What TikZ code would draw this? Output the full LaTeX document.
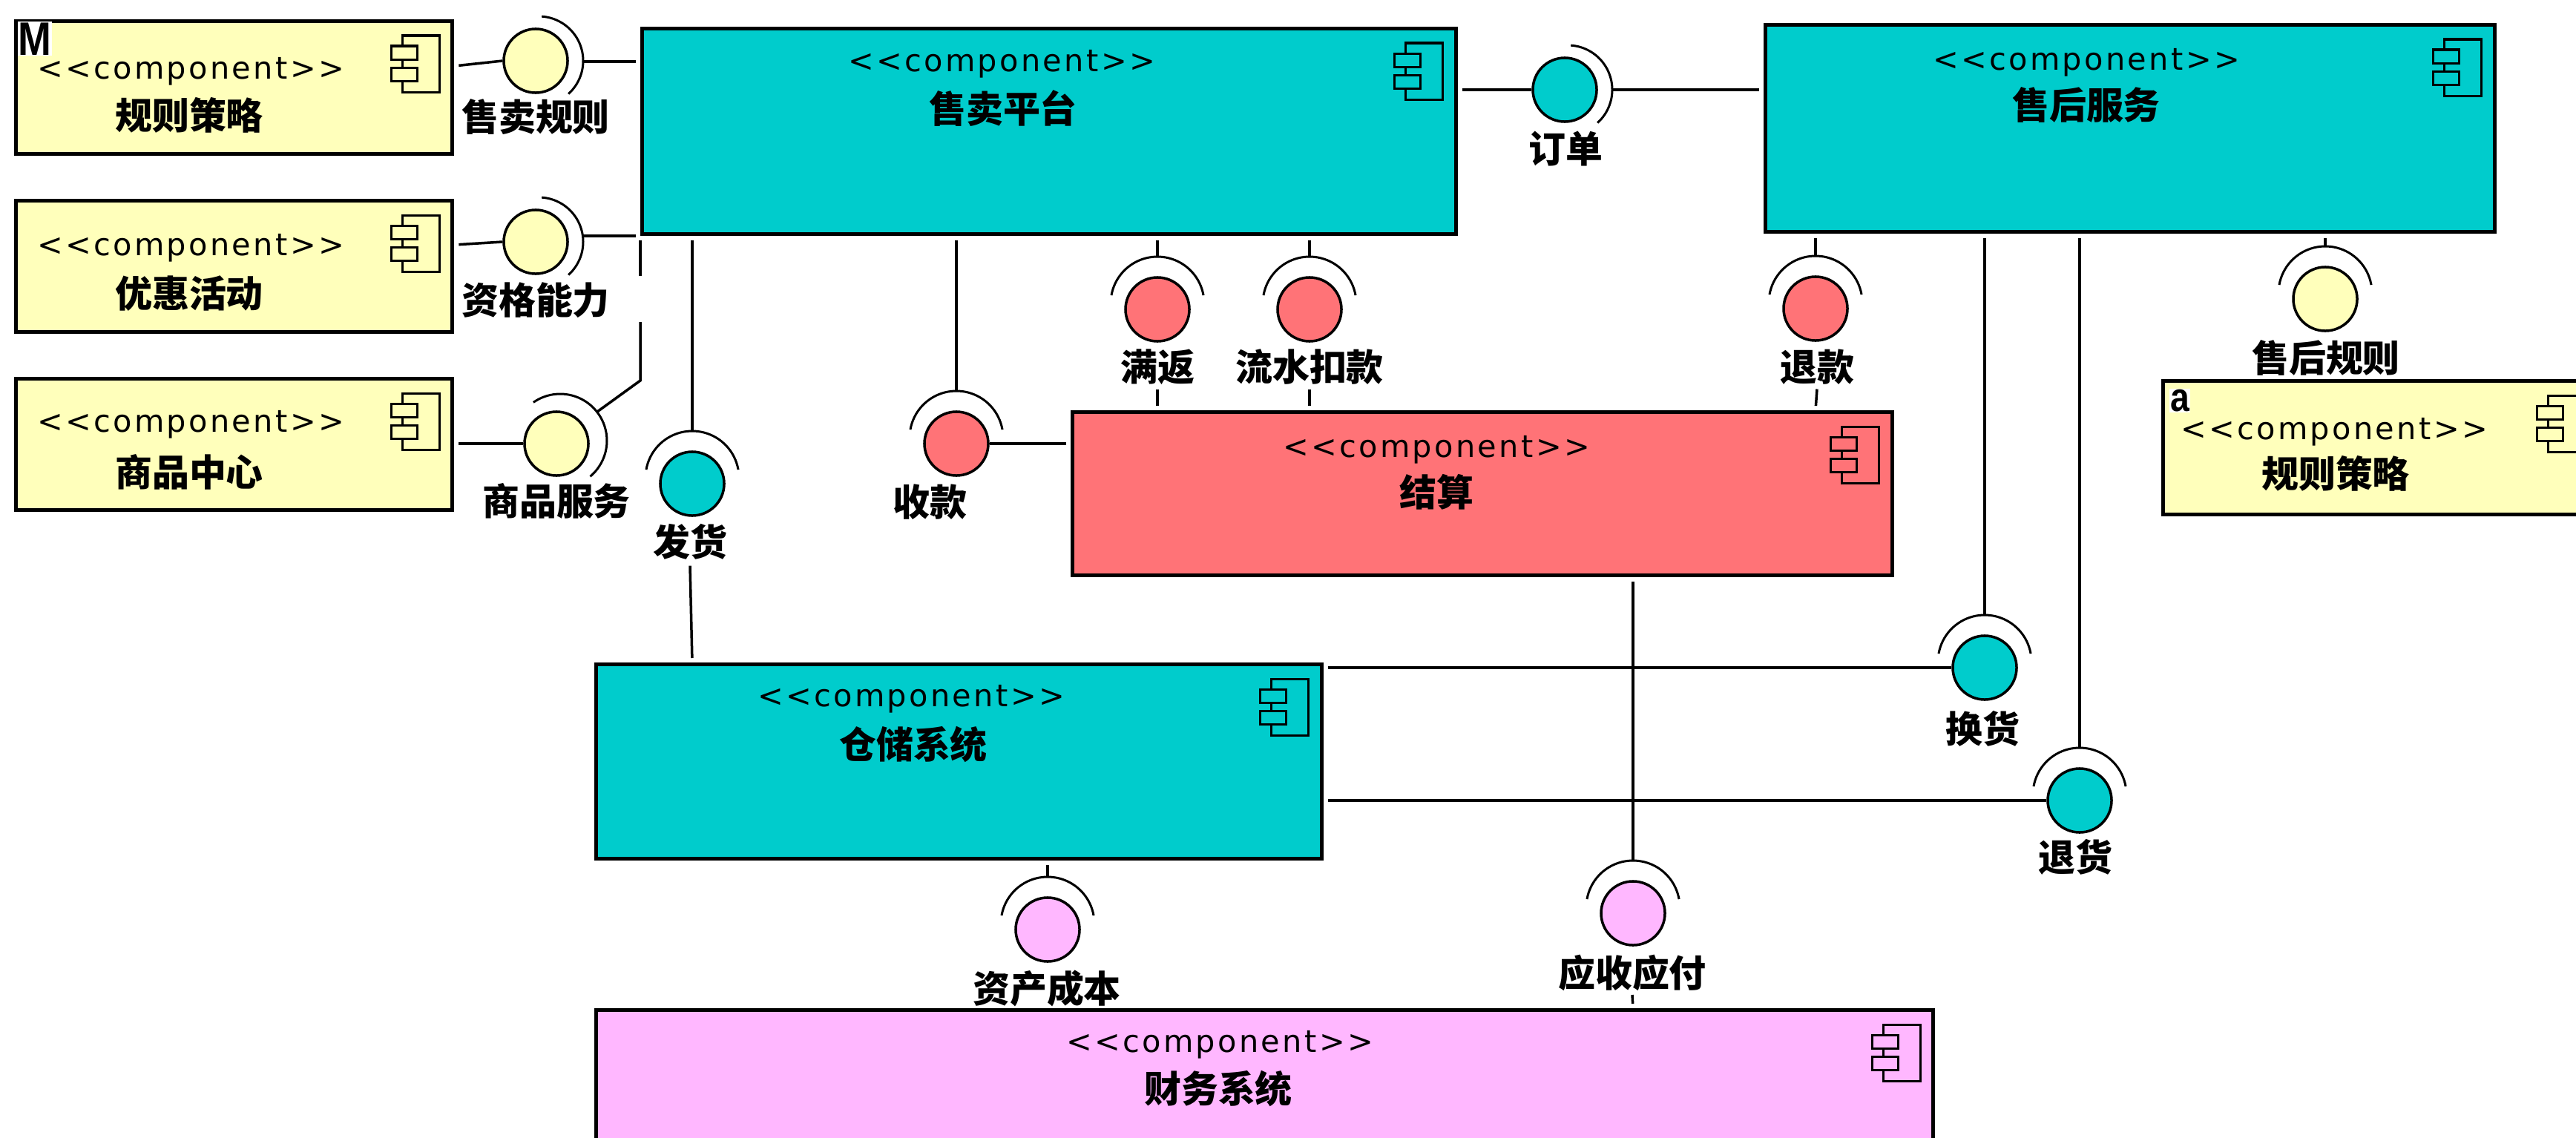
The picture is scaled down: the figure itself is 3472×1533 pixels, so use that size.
\documentclass[tikz,border=0pt]{standalone}
\usepackage{fontspec}
\setmainfont{DejaVu Sans}
\newfontfamily\cjk{Noto Sans CJK SC}
\newfontfamily\stfont[LetterSpace=8]{DejaVu Sans}
\newfontfamily\tagfnt[FakeStretch=0.85]{Liberation Sans}
\usetikzlibrary{calc}
\definecolor{cteal}{HTML}{00CCCC}
\definecolor{cyel}{HTML}{FFFFBB}
\definecolor{cred}{HTML}{FF7377}
\definecolor{cpink}{HTML}{FFB7FF}
\tikzset{
  comp/.style={draw=black, line width=0.05cm, rectangle, anchor=north west, inner sep=0pt},
  st/.style={font=\stfont\fontsize{11.8}{13}\selectfont, inner sep=0pt},
  nm/.style={font=\cjk\bfseries\fontsize{14.2}{16}\selectfont, inner sep=0pt},
  ball/.style={circle, draw=black, line width=0.035cm, minimum size=0.86cm, inner sep=0pt},
  conn/.style={line width=0.035cm, shorten <=0.06cm},
  sock/.style={line width=0.03cm},
  iconl/.style={line width=0.03cm},
  tagbox/.style={fill=white, inner sep=0.01cm, anchor=base}
}
\newcommand\cicon[2]{%
  \draw[iconl, fill=#2] ($(#1.north east)+(-70,22)$) rectangle ($(#1.north east)+(-20,98)$);
  \draw[iconl, fill=#2] ($(#1.north east)+(-85,36)$) rectangle ($(#1.north east)+(-50,54)$);
  \draw[iconl, fill=#2] ($(#1.north east)+(-85,65)$) rectangle ($(#1.north east)+(-50,83)$);
}
\newcommand\sockR[2]{\draw[sock] plot[domain=-48:86, samples=40] ({#1+4+60*cos(\x)}, {#2-60*sin(\x)});}
\newcommand\sockT[2]{\draw[sock] plot[domain=10:170, samples=40] ({#1+63*cos(\x)}, {#2-8-63*sin(\x)});}
\begin{document}
\begin{tikzpicture}[x=0.01cm, y=-0.01cm]
\useasboundingbox (0,0) rectangle (3472,1533);
\clip (0,0) rectangle (3472,1533);
\fill[white] (0,0) rectangle (3472,1533);

% ---------------- components
\node[comp, fill=cyel, minimum width=5.88cm, minimum height=1.79cm] (rules1) at (19,26) {};
\node[comp, fill=cyel, minimum width=5.88cm, minimum height=1.77cm] (promo) at (19,268) {};
\node[comp, fill=cyel, minimum width=5.88cm, minimum height=1.77cm] (goods) at (19,508) {};
\node[comp, fill=cteal, minimum width=10.96cm, minimum height=2.77cm] (sale) at (863,36) {};
\node[comp, fill=cteal, minimum width=9.82cm, minimum height=2.79cm] (after) at (2377,31) {};
\node[comp, fill=cred, minimum width=11.04cm, minimum height=2.20cm] (settle) at (1443,553) {};
\node[comp, fill=cteal, minimum width=9.77cm, minimum height=2.62cm] (store) at (801,893) {};
\node[comp, fill=cpink, minimum width=18.01cm, minimum height=2.20cm] (fin) at (801,1359) {};
\node[comp, fill=cyel, minimum width=5.86cm, minimum height=1.80cm] (rules2) at (2913,511) {};

\cicon{rules1}{cyel}
\cicon{promo}{cyel}
\cicon{goods}{cyel}
\cicon{sale}{cteal}
\cicon{after}{cteal}
\cicon{settle}{cred}
\cicon{store}{cteal}
\cicon{fin}{cpink}
\cicon{rules2}{cyel}

\node[st] (rules1st) at (257,96) {<<component>>};
\node[nm] (rules1nm) at (255,155) {规则策略};
\node[st] (promost) at (257,334) {<<component>>};
\node[nm] (promonm) at (255,396) {优惠活动};
\node[st] (goodsst) at (257,572) {<<component>>};
\node[nm] (goodsnm) at (255,636) {商品中心};
\node[st] (salest) at (1350,86) {<<component>>};
\node[nm] (salenm) at (1352,146) {售卖平台};
\node[st] (afterst) at (2812,84) {<<component>>};
\node[nm] (afternm) at (2812,141) {售后服务};
\node[st] (settlest) at (1936,606) {<<component>>};
\node[nm] (settlenm) at (1936,663) {结算};
\node[st] (storest) at (1228,942) {<<component>>};
\node[nm] (storenm) at (1231,1003) {仓储系统};
\node[st] (finst) at (1644,1408) {<<component>>};
\node[nm] (finnm) at (1642,1467) {财务系统};
\node[st] (rules2st) at (3146,582) {<<component>>};
\node[nm] (rules2nm) at (3148,638) {规则策略};

\node[tagbox, font=\tagfnt\bfseries\fontsize{18}{20}\selectfont] (tagM) at (47,74) {M};
\node[tagbox, font=\tagfnt\bfseries\fontsize{15.5}{18}\selectfont] (taga) at (2938,554) {a};

% ---------------- interface labels
\node[nm] (l1) at (722,158) {售卖规则};
\node[nm] (l2) at (722,405) {资格能力};
\node[nm] (l3) at (750,675) {商品服务};
\node[nm] (l4) at (2110,200) {订单};
\node[nm] (l5) at (930,730) {发货};
\node[nm] (l6) at (1253,677) {收款};
\node[nm] (l7) at (1560,495) {满返};
\node[nm] (l8) at (1765,495) {流水扣款};
\node[nm] (l9) at (2449,495) {退款};
\node[nm] (l10) at (3135,482) {售后规则};
\node[nm] (l11) at (2672,982) {换货};
\node[nm] (l12) at (2797,1155) {退货};
\node[nm] (l13) at (1411,1332) {资产成本};
\node[nm] (l14) at (2200,1311) {应收应付};

% ---------------- socket end points
\coordinate (s1) at (786,83);
\coordinate (s2) at (785,318);
\coordinate (s3) at (805,555);
\coordinate (s4) at (2173,121);
\coordinate (s5) at (933,581);
\coordinate (s6) at (1289,527);
\coordinate (s7) at (1560,346);
\coordinate (s8) at (1765,346);
\coordinate (s9) at (2447,345);
\coordinate (s10) at (3134,332);
\coordinate (s11) at (2675,829);
\coordinate (s12) at (2803,1008);
\coordinate (s13) at (1412,1182);
\coordinate (s14) at (2201,1160);

% ---------------- balls (provided interfaces)
\node[ball, fill=cyel] (i1) at (722,82) {};
\node[ball, fill=cyel] (i2) at (722,326) {};
\node[ball, fill=cyel] (i3) at (750,598) {};
\node[ball, fill=cteal] (i4) at (2109,121) {};
\node[ball, fill=cteal] (i5) at (933,652) {};
\node[ball, fill=cred] (i6) at (1289,598) {};
\node[ball, fill=cred] (i7) at (1560,417) {};
\node[ball, fill=cred] (i8) at (1765,417) {};
\node[ball, fill=cred] (i9) at (2447,416) {};
\node[ball, fill=cyel] (i10) at (3134,403) {};
\node[ball, fill=cteal] (i11) at (2675,900) {};
\node[ball, fill=cteal] (i12) at (2803,1079) {};
\node[ball, fill=cpink] (i13) at (1412,1253) {};
\node[ball, fill=cpink] (i14) at (2201,1231) {};

% ---------------- sockets (required interfaces)
\sockR{722}{82}
\sockR{722}{326}
\draw[sock] plot[domain=-50:125, samples=40] ({755+63*cos(\x)}, {594-63*sin(\x)});
\sockR{2109}{121}
\sockT{933}{652}
\sockT{1289}{598}
\sockT{1560}{417}
\sockT{1765}{417}
\sockT{2447}{416}
\sockT{3134}{403}
\sockT{2675}{900}
\sockT{2803}{1079}
\sockT{1412}{1253}
\sockT{2201}{1231}

% ---------------- connectors
% 售卖规则
\draw[conn] (rules1.east |- 0,89) -- (i1.west);
\draw[conn] (sale.west |- s1) -- (s1);
% 资格能力
\draw[conn] (promo.east |- 0,330) -- (i2.west);
\draw[conn] (sale.west |- s2) -- (s2);
% 商品服务
\draw[conn] (goods.east |- i3) -- (i3.west);
\draw[conn] (sale.south west) -- (sale.south west |- 0,372);
\draw[conn, shorten <=0pt] (sale.south west |- 0,434) -- (sale.south west |- 0,513) -- (s3);
% 订单
\draw[conn] (sale.east |- i4) -- (i4.west);
\draw[conn] (after.west |- s4) -- (s4);
% 发货
\draw[conn] (sale.south -| s5) -- (s5);
\draw[conn] (store.north -| i5) -- ($(l5.south)+(0,8)$);
% 收款
\draw[conn] (sale.south -| s6) -- (s6);
\draw[conn] (settle.west |- i6) -- (i6.east);
% 满返
\draw[conn] (sale.south -| s7) -- (s7);
\draw[conn] (settle.north -| i7) -- ($(l7.south)+(0,5)$);
% 流水扣款
\draw[conn] (sale.south -| s8) -- (s8);
\draw[conn] (settle.north -| i8) -- ($(l8.south)+(0,5)$);
% 退款
\draw[conn] (after.south -| s9) -- (s9);
\draw[conn] (settle.north -| i9) -- ($(l9.south)+(0,5)$);
% 售后规则
\draw[conn] (after.south -| s10) -- (s10);
% 换货
\draw[conn] (after.south -| s11) -- (s11);
\draw[conn] (store.east |- i11) -- (i11.west);
% 退货
\draw[conn] (after.south -| s12) -- (s12);
\draw[conn] (store.east |- i12) -- (i12.west);
% 资产成本
\draw[conn] (store.south -| s13) -- (s13);
% 应收应付
\draw[conn] (settle.south -| s14) -- (s14);
\draw[conn] (fin.north -| i14) -- ($(l14.south)+(0,5)$);
\end{tikzpicture}
\end{document}
